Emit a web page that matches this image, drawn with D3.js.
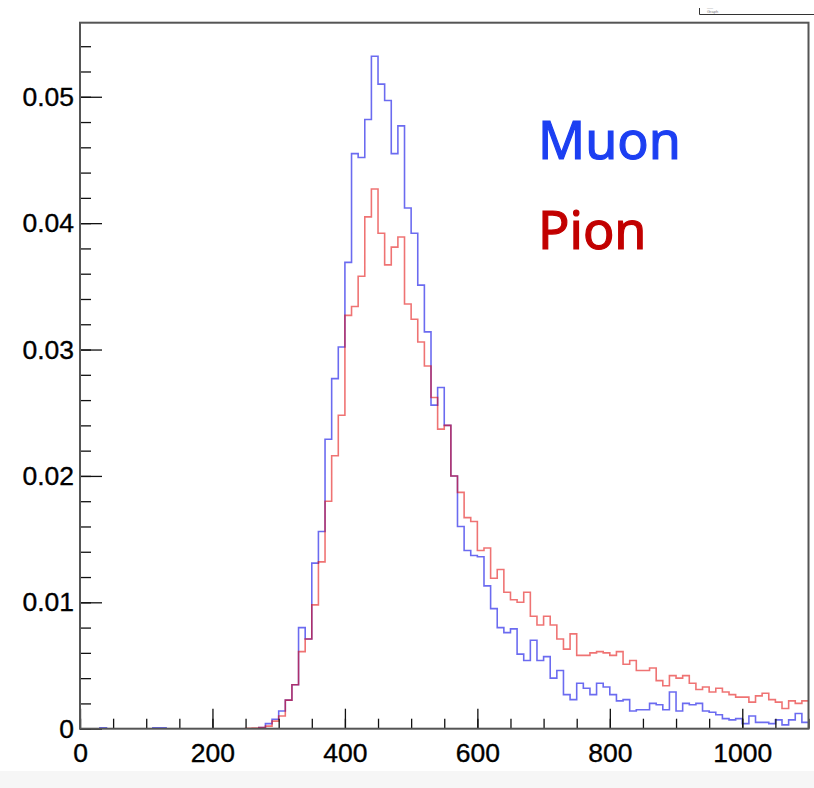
<!DOCTYPE html>
<html><head><meta charset="utf-8">
<script src="https://cdn.jsdelivr.net/npm/d3@7"></script>
<style>body{margin:0;background:#fff;} svg{display:block;}</style>
</head><body><svg id="c" width="814" height="788"></svg>
<script>
const binWidth = 10;
const muon = [
0,0,0,0.00008,0,0,0,0,0,0,
0,0.00008,0.00008,0,0,0,0,0,0,0,
0,0,0,0,0,0,0,0.0001,0.0004,0.00075,
0.0014,0.00226,0.00348,0.0080,0.0071,0.0131,0.0156,0.0229,0.0277,0.0302,
0.0369,0.0455,0.0452,0.0482,0.0532,0.0510,0.0497,0.0455,0.0477,0.0412,
0.0392,0.0351,0.0314,0.0256,0.0270,0.0240,0.0200,0.0160,0.0141,0.0137,
0.0136,0.0113,0.0095,0.0080,0.0076,0.0079,0.0059,0.0054,0.0070,0.0054,
0.0057,0.0040,0.0046,0.0027,0.0023,0.0036,0.0032,0.0027,0.0036,0.0033,
0.0027,0.0022,0.0023,0.0014,0.0015,0.0015,0.0020,0.0019,0.0015,0.0029,
0.0014,0.0020,0.0019,0.0020,0.0014,0.0013,0.0011,0.0008,0.0007,0.0008,
0.0004,0.0010,0.0005,0.0005,0.0004,0.0007,0.0003,0.0007,0.0012,0.0005];
const pion = [
0,0,0,0,0,0,0,0,0,0,
0,0,0,0,0,0,0,0,0,0,
0,0,0,0,0,0.00003,0.00005,0.0001,0.0002,0.0006,
0.0010,0.00226,0.00348,0.0061,0.0071,0.0098,0.0132,0.0180,0.0216,0.0248,
0.0327,0.0334,0.0358,0.0405,0.0427,0.0392,0.0367,0.0381,0.0389,0.0336,
0.0324,0.0306,0.0287,0.0262,0.0237,0.0240,0.0200,0.0187,0.0167,0.0164,
0.0141,0.0143,0.0119,0.0126,0.0108,0.0102,0.0100,0.0108,0.0089,0.0082,
0.0089,0.0082,0.0071,0.0063,0.0075,0.0058,0.0058,0.0060,0.0061,0.0060,
0.0058,0.0061,0.0051,0.0054,0.0046,0.0046,0.0048,0.0038,0.0034,0.0042,
0.0040,0.0042,0.0036,0.0031,0.0033,0.0029,0.0032,0.0029,0.0027,0.0025,
0.0025,0.0021,0.0026,0.0028,0.0023,0.0021,0.0016,0.0022,0.0020,0.0022];
const xTicks = [0,200,400,600,800,1000];
const xMinor = d3.range(0, 1101, 50);
const yTicks = [0,0.01,0.02,0.03,0.04,0.05];
const yMinor = d3.range(0, 0.0555, 0.002);
const legendNames = ["Muon","Pion"];

const L = 80, R = 808.5, T = 22.7, B = 728.7;
const xMax = 1100;
const yMax = 1.05 * d3.max(muon.concat(pion));
const x = d3.scaleLinear().domain([0, xMax]).range([L, R]);
const y = d3.scaleLinear().domain([0, yMax]).range([B, T]);

const svg = d3.select("#c");
svg.append("rect").attr("x",0).attr("y",0).attr("width",814).attr("height",788).attr("fill","#fff");
svg.append("rect").attr("x",0).attr("y",771).attr("width",814).attr("height",17).attr("fill","#f6f6f6");

svg.append("defs").append("clipPath").attr("id","clip")
  .append("rect").attr("x",L).attr("y",T).attr("width",R-L).attr("height",B-T);

function pts(arr){
  const p = arr.map((v,i)=>[i*binWidth, v]);
  p.push([arr.length*binWidth, arr[arr.length-1]]);
  return p;
}
const line = d3.line().x(d=>x(d[0])).y(d=>y(d[1])).curve(d3.curveStepAfter);
const g = svg.append("g").attr("clip-path","url(#clip)");
g.append("path").attr("d", line(pts(muon))).attr("fill","none")
  .attr("stroke","rgba(0,0,230,0.58)").attr("stroke-width",1.6);
g.append("path").attr("d", line(pts(pion))).attr("fill","none")
  .attr("stroke","rgba(225,0,0,0.55)").attr("stroke-width",1.6);

const font = "'Liberation Sans', Arial, Helvetica, sans-serif";
// x axis
const xa = svg.append("g").attr("transform",`translate(0,${B})`)
  .call(d3.axisBottom(x).tickValues(xTicks).tickSize(-20).tickPadding(14).tickFormat(d3.format("d")));
const xm = svg.append("g").attr("transform",`translate(0,${B})`)
  .call(d3.axisBottom(x).tickValues(xMinor).tickSize(-10).tickFormat(""));
// y axis
const ya = svg.append("g").attr("transform",`translate(${L},0)`)
  .call(d3.axisLeft(y).tickValues(yTicks).tickSize(-22).tickPadding(6).tickFormat(d=> d===0 ? "0" : d3.format(".2f")(d)));
const ym = svg.append("g").attr("transform",`translate(${L},0)`)
  .call(d3.axisLeft(y).tickValues(yMinor).tickSize(-11).tickFormat(""));
[xa,xm,ya,ym].forEach(a=>{
  a.select(".domain").remove();
  a.selectAll(".tick line").attr("stroke","#111").attr("stroke-width",1.3);
  a.selectAll("text").attr("font-family",font).attr("font-size",26.5).attr("fill","#000")
    .attr("stroke","#000").attr("stroke-width",0.35);
});

// frame
svg.append("rect").attr("x",L).attr("y",T).attr("width",R-L).attr("height",B-T)
  .attr("fill","none").attr("stroke","#555").attr("stroke-width",2);

// legend text
svg.append("text").attr("x",538).attr("y",159).text(legendNames[0])
  .attr("font-family","'Noto Sans', 'Liberation Sans', sans-serif").attr("font-size",52).attr("fill","#1c3ff2")
  .attr("stroke","#1c3ff2").attr("stroke-width",1.2);
svg.append("text").attr("x",538).attr("y",249).text(legendNames[1])
  .attr("font-family","'Noto Sans', 'Liberation Sans', sans-serif").attr("font-size",52).attr("fill","#c20000")
  .attr("stroke","#c20000").attr("stroke-width",1.2);

// tiny stats box remnant
svg.append("path").attr("d","M699.5,8 V14.5 H814").attr("fill","none").attr("stroke","#333").attr("stroke-width",1);
svg.append("text").attr("x",707).attr("y",8.5).text("——").attr("font-size",3).attr("fill","#777").attr("font-family",font);
svg.append("text").attr("x",707).attr("y",12.5).text("Graph").attr("font-size",4).attr("fill","#777").attr("font-family",font);
</script></body></html>
